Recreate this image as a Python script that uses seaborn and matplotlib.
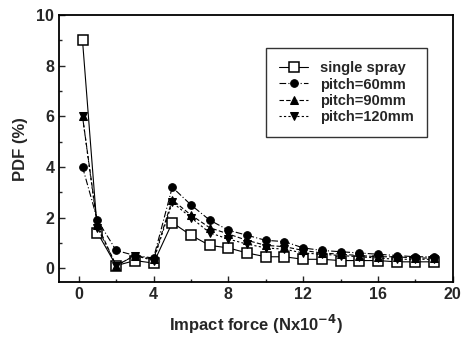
import numpy as np
import pandas as pd
import matplotlib
matplotlib.use('Agg')
import matplotlib.pyplot as plt
import seaborn as sns
from matplotlib.ticker import MultipleLocator

# --------------data--------------
force = [0.2, 1, 2, 3, 4, 5, 6, 7, 8, 9, 10, 11, 12, 13, 14, 15, 16, 17, 18, 19]
single_spray = [9.0, 1.4, 0.1, 0.3, 0.2, 1.8, 1.3, 0.9, 0.8, 0.6, 0.45, 0.45,
                0.35, 0.35, 0.3, 0.3, 0.3, 0.25, 0.25, 0.25]
pitch_60 = [4.0, 1.9, 0.7, 0.5, 0.4, 3.2, 2.5, 1.9, 1.5, 1.3, 1.1, 1.05,
            0.8, 0.7, 0.65, 0.6, 0.55, 0.5, 0.45, 0.45]
pitch_90 = [6.0, 1.7, 0.1, 0.5, 0.35, 2.7, 2.1, 1.6, 1.35, 1.1, 0.9, 0.85,
            0.7, 0.6, 0.55, 0.5, 0.45, 0.45, 0.4, 0.4]
pitch_120 = [6.0, 1.6, 0.1, 0.5, 0.3, 2.6, 2.0, 1.4, 1.15, 0.95, 0.8, 0.75,
             0.6, 0.55, 0.5, 0.45, 0.4, 0.35, 0.35, 0.35]
labels = ['single spray', 'pitch=60mm', 'pitch=90mm', 'pitch=120mm']

df = pd.concat([
    pd.DataFrame({'force': force, 'pdf': vals, 'case': lab})
    for lab, vals in zip(labels, [single_spray, pitch_60, pitch_90, pitch_120])
])

# --------------styling--------------
sns.set_style('ticks')
plt.rcParams['font.family'] = ['Liberation Sans', 'DejaVu Sans']
plt.rcParams['font.weight'] = 'bold'
plt.rcParams['axes.labelweight'] = 'bold'
plt.rcParams['mathtext.default'] = 'bf'

markers = {'single spray': 's', 'pitch=60mm': 'o', 'pitch=90mm': '^', 'pitch=120mm': 'v'}
dashes = {'single spray': '', 'pitch=60mm': (6, 2, 1, 2), 'pitch=90mm': (4, 2), 'pitch=120mm': (2, 2)}

fig = plt.figure(figsize=(4.62, 3.37), dpi=100)
ax = fig.add_axes([0.128, 0.163, 0.852, 0.792])

for lab in labels:
    sub = df[df['case'] == lab]
    if lab == 'single spray':
        mk = dict(markerfacecolor='white', markeredgecolor='black', markersize=7, markeredgewidth=1.1)
    else:
        mk = dict(markerfacecolor='black', markeredgecolor='black', markersize=5.5)
    sns.lineplot(data=sub, x='force', y='pdf', ax=ax, color='black', lw=0.8,
                 marker=markers[lab], label=lab, **mk)
    if dashes[lab]:
        ax.lines[-1].set_dashes(dashes[lab])

ax.set_xlim(-1.05, 20)
ax.set_ylim(-0.55, 10)
ax.xaxis.set_major_locator(MultipleLocator(4))
ax.xaxis.set_minor_locator(MultipleLocator(2))
ax.yaxis.set_major_locator(MultipleLocator(2))
ax.yaxis.set_minor_locator(MultipleLocator(1))
ax.tick_params(which='both', direction='in', labelsize=11.5, width=1)
ax.tick_params(which='major', length=4)
ax.tick_params(which='minor', length=2.5)
for s in ax.spines.values():
    s.set_linewidth(1.3)
    s.set_color('black')

ax.set_xlabel('Impact force (Nx10$^{-4}$)', fontsize=12, labelpad=8)
ax.set_ylabel('PDF (%)', fontsize=12, labelpad=6)

leg = ax.legend(loc='upper right', bbox_to_anchor=(0.934, 0.876), fontsize=10.5,
                frameon=True, fancybox=False, edgecolor='black', handlelength=2.0,
                borderpad=0.9, labelspacing=0.15, handletextpad=0.8, borderaxespad=0)
leg.get_frame().set_linewidth(1.0)

fig.savefig('out.png', dpi=100)
